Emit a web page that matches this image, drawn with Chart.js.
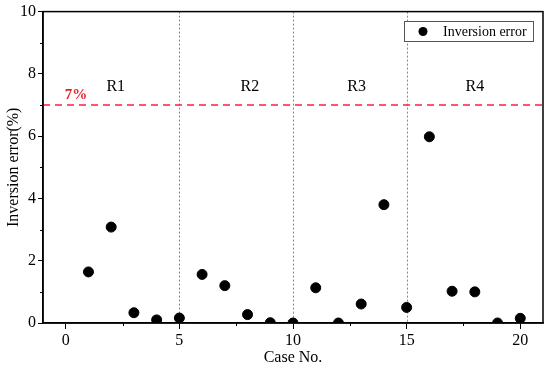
<!DOCTYPE html>
<html>
<head>
<meta charset="UTF-8">
<title>Inversion error</title>
<script src="https://cdn.jsdelivr.net/npm/chart.js"></script>
<style>
    body { margin: 0; background: #ffffff; }
    #wrap { width: 550px; height: 371px; }
</style>
</head>
<body>
<div id="wrap"><canvas id="errChart"></canvas></div>
<script>
// data
const caseNo = [1, 2, 3, 4, 5, 6, 7, 8, 9, 10, 11, 12, 13, 14, 15, 16, 17, 18, 19, 20];
const inversionError = [1.64, 3.08, 0.33, 0.1, 0.16, 1.56, 1.2, 0.27, 0.01, 0, 1.13, 0, 0.61, 3.8, 0.5, 5.98, 1.02, 1.0, 0, 0.15];
const regionBounds = [5, 10, 15];
const regionLabels = ['R1', 'R2', 'R3', 'R4'];
const regionLabelX = [2.2, 8.1, 12.8, 18];
const limitValue = 7;
const limitLabel = '7%';

const FONT = '"Liberation Serif", "Times New Roman", serif';

const extras = {
    id: 'extras',
    beforeDatasetsDraw(chart) {
        const { ctx, chartArea: a, scales: { x, y } } = chart;
        ctx.save();
        // region separators
        ctx.strokeStyle = '#888888';
        ctx.lineWidth = 1;
        ctx.setLineDash([2, 2]);
        regionBounds.forEach(v => {
            const px = Math.round(x.getPixelForValue(v)) + 0.5;
            ctx.beginPath();
            ctx.moveTo(px, a.top);
            ctx.lineTo(px, a.bottom);
            ctx.stroke();
        });
        // 7% limit
        ctx.beginPath();
        ctx.strokeStyle = 'rgb(255, 30, 60)';
        ctx.lineWidth = 1.5;
        ctx.setLineDash([7, 5]);
        const py = Math.round(y.getPixelForValue(limitValue));
        ctx.moveTo(a.left, py);
        ctx.lineTo(a.right, py);
        ctx.stroke();
        ctx.setLineDash([]);
        // labels
        ctx.fillStyle = '#000';
        ctx.font = '16px ' + FONT;
        ctx.textAlign = 'center';
        ctx.textBaseline = 'middle';
        regionLabels.forEach((t, i) => {
            ctx.fillText(t, x.getPixelForValue(regionLabelX[i]), y.getPixelForValue(7.6));
        });
        ctx.fillStyle = '#e8202a';
        ctx.font = 'bold 15px ' + FONT;
        ctx.fillText(limitLabel, x.getPixelForValue(0.45), y.getPixelForValue(7.33));
        ctx.restore();
    },
    afterDraw(chart) {
        const { ctx, chartArea: a, scales: { x, y } } = chart;
        ctx.save();
        ctx.strokeStyle = '#000';
        ctx.lineWidth = 1.5;
        ctx.strokeRect(a.left, a.top, a.right - a.left, a.bottom - a.top);
        // minor ticks
        ctx.lineWidth = 1;
        for (let v = 1; v < 10; v += 2) {
            const py = Math.round(y.getPixelForValue(v)) + 0.5;
            ctx.beginPath();
            ctx.moveTo(a.left - 3, py);
            ctx.lineTo(a.left, py);
            ctx.stroke();
        }
        for (let v = 2.5; v < 21; v += 5) {
            const px = Math.round(x.getPixelForValue(v)) + 0.5;
            ctx.beginPath();
            ctx.moveTo(px, a.bottom);
            ctx.lineTo(px, a.bottom + 3);
            ctx.stroke();
        }
        // legend box
        const lx = 404, ly = 21, lw = 129, lh = 20;
        ctx.fillStyle = '#fff';
        ctx.fillRect(lx, ly, lw, lh);
        ctx.strokeStyle = '#555';
        ctx.strokeRect(lx + 0.5, ly + 0.5, lw, lh);
        ctx.fillStyle = '#000';
        ctx.beginPath();
        ctx.arc(lx + 19, ly + 10.5, 4.5, 0, Math.PI * 2);
        ctx.fill();
        ctx.font = '14px ' + FONT;
        ctx.textAlign = 'left';
        ctx.textBaseline = 'middle';
        ctx.fillText('Inversion error', lx + 39, ly + 11);
        ctx.restore();
    }
};

new Chart(document.getElementById('errChart'), {
    type: 'scatter',
    data: {
        datasets: [{
            label: 'Inversion error',
            data: caseNo.map((c, i) => ({ x: c, y: inversionError[i] })),
            backgroundColor: '#000',
            borderColor: '#000',
            pointRadius: 5,
            pointHoverRadius: 5
        }]
    },
    options: {
        responsive: true,
        maintainAspectRatio: false,
        animation: false,
        layout: { padding: { top: 10, right: 7, left: 0, bottom: 0 } },
        plugins: {
            legend: { display: false },
            tooltip: { enabled: false }
        },
        scales: {
            x: {
                min: -1, max: 21,
                afterBuildTicks: s => { s.ticks = [0, 5, 10, 15, 20].map(v => ({ value: v })); },
                afterFit: s => { s.height = 48; },
                grid: { drawOnChartArea: false, color: '#000', tickLength: 6, tickWidth: 1 },
                border: { color: '#000', width: 1.5 },
                ticks: { color: '#000', font: { family: FONT, size: 16 }, padding: 2 },
                title: { display: true, text: 'Case No.', color: '#000', font: { family: FONT, size: 16 }, padding: { top: 2 } }
            },
            y: {
                min: 0, max: 10,
                afterBuildTicks: s => { s.ticks = [0, 2, 4, 6, 8, 10].map(v => ({ value: v })); },
                afterFit: s => { s.width = 43; },
                grid: { drawOnChartArea: false, color: '#000', tickLength: 5, tickWidth: 1 },
                border: { color: '#000', width: 1.5 },
                ticks: { color: '#000', font: { family: FONT, size: 16 }, padding: 2 },
                title: { display: true, text: 'Inversion error(%)', color: '#000', font: { family: FONT, size: 16 }, padding: { bottom: 0 } }
            }
        }
    },
    plugins: [extras]
});
</script>
</body>
</html>
